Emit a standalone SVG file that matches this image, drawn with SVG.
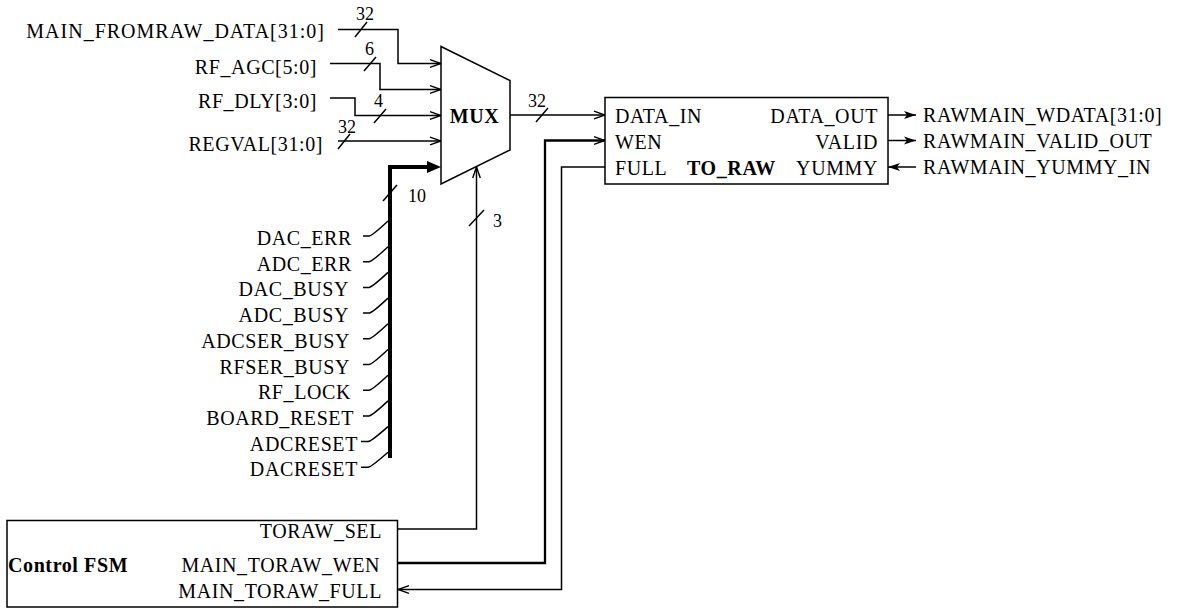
<svg xmlns="http://www.w3.org/2000/svg" width="1178" height="610" viewBox="0 0 1178 610">
<style>
text{font-family:"Liberation Serif","Times New Roman",serif;font-size:20px;letter-spacing:0.6px;fill:#000}
.b{font-weight:bold}
.n{font-size:18px;letter-spacing:0}
.e{text-anchor:end}
.w{fill:none;stroke:#000;stroke-width:1.5}
.wt{fill:none;stroke:#000;stroke-width:2.3}
.bus{fill:none;stroke:#000;stroke-width:4}
.sl{fill:none;stroke:#000;stroke-width:1.5}
.box{fill:#fff;stroke:#000;stroke-width:1.5}
</style>
<defs>
<marker id="a" markerUnits="userSpaceOnUse" markerWidth="14" markerHeight="10" refX="12" refY="5" orient="auto">
<path d="M1,1.2 L12,5 L1,8.8" fill="none" stroke="#000" stroke-width="1.4"/>
</marker>
<marker id="f" markerUnits="userSpaceOnUse" markerWidth="14" markerHeight="10" refX="12" refY="5" orient="auto">
<path d="M0,1 L12,5 L0,9 L3,5 Z" fill="#000"/>
</marker>
</defs>

<g id="connectors">
<path class="w" d="M338,29.5 H398 V63.5 H441" marker-end="url(#a)"/>
<path class="w" d="M330,63.5 H380 V89.5 H441" marker-end="url(#a)"/>
<path class="w" d="M330,98 H355 V115.5 H441" marker-end="url(#a)"/>
<path class="w" d="M338,141 H441" marker-end="url(#a)"/>
<path class="bus" d="M390,458 V167 H430"/>
<path d="M427,161 L441,167 L427,173 Z" fill="#000"/>
<path class="w" d="M510,115 H605" marker-end="url(#a)"/>
<path class="w" d="M398,529 H476.5 V167" marker-end="url(#a)"/>
<path class="wt" d="M398,563 H545 V140.5 H605" marker-end="url(#a)"/>
<path class="w" d="M605,167 H561.5 V589.5 H398" marker-end="url(#a)"/>
<path class="w" d="M888,115 H916" marker-end="url(#f)"/>
<path class="w" d="M888,140.5 H916" marker-end="url(#f)"/>
<path class="w" d="M916,167 H888" marker-end="url(#f)"/>
<g id="stubs">
<path class="w" d="M363,236 H369 Q372,236 388,221"/>
<path class="w" d="M363,261.7 H369 Q372,261.7 388,246.7"/>
<path class="w" d="M363,287.4 H369 Q372,287.4 388,272.4"/>
<path class="w" d="M363,313.1 H369 Q372,313.1 388,298.1"/>
<path class="w" d="M363,338.8 H369 Q372,338.8 388,323.8"/>
<path class="w" d="M363,364.5 H369 Q372,364.5 388,349.5"/>
<path class="w" d="M363,390.2 H369 Q372,390.2 388,375.2"/>
<path class="w" d="M363,415.9 H369 Q372,415.9 388,400.9"/>
<path class="w" d="M361,441.6 H368 Q371,441.6 388,426.6"/>
<path class="w" d="M361,467.3 H368 Q371,467.3 388,452.3"/>
</g>
<g id="slashes">
<path class="sl" d="M355,37 L367,22"/>
<path class="sl" d="M364,71 L376,57"/>
<path class="sl" d="M374,123 L386,109"/>
<path class="sl" d="M338,149 L350,134"/>
<path class="sl" d="M536,122 L548,108"/>
<path class="sl" d="M383,201 L397,185"/>
<path class="sl" d="M469,226 L484,210"/>
</g>
<text class="n" x="356" y="20">32</text>
<text class="n" x="365" y="55">6</text>
<text class="n" x="374" y="107">4</text>
<text class="n" x="338" y="133">32</text>
<text class="n" x="528" y="107">32</text>
<text class="n" x="408" y="202">10</text>
<text class="n" x="493" y="227">3</text>
</g>

<g id="inputs">
<text class="e" x="325" y="38" style="letter-spacing:1px">MAIN_FROMRAW_DATA[31:0]</text>
<text class="e" x="317" y="74">RF_AGC[5:0]</text>
<text class="e" x="317" y="108">RF_DLY[3:0]</text>
<text class="e" x="323" y="151">REGVAL[31:0]</text>
</g>

<g id="status">
<text class="e" x="352" y="245">DAC_ERR</text>
<text class="e" x="352" y="270.7">ADC_ERR</text>
<text class="e" x="349" y="296.4">DAC_BUSY</text>
<text class="e" x="349" y="322.1">ADC_BUSY</text>
<text class="e" x="350" y="347.8">ADCSER_BUSY</text>
<text class="e" x="350" y="373.5">RFSER_BUSY</text>
<text class="e" x="351" y="399.2">RF_LOCK</text>
<text class="e" x="354" y="424.9">BOARD_RESET</text>
<text class="e" x="358" y="450.6">ADCRESET</text>
<text class="e" x="358" y="476.3">DACRESET</text>
</g>

<g id="mux">
<polygon class="box" points="441,46.5 510,80.5 510,150 441,184"/>
<text class="b" x="474.5" y="123" text-anchor="middle">MUX</text>
</g>

<g id="to_raw">
<rect class="box" x="605" y="97.5" width="283" height="86.5"/>
<text x="615" y="123">DATA_IN</text>
<text x="615" y="149">WEN</text>
<text x="615" y="175">FULL</text>
<text class="b" x="687" y="175">TO_RAW</text>
<text class="e" x="878" y="123">DATA_OUT</text>
<text class="e" x="878" y="149">VALID</text>
<text class="e" x="878" y="175">YUMMY</text>
</g>

<g id="outputs">
<text x="923" y="122">RAWMAIN_WDATA[31:0]</text>
<text x="923" y="148">RAWMAIN_VALID_OUT</text>
<text x="923" y="174">RAWMAIN_YUMMY_IN</text>
</g>

<g id="control_fsm">
<rect class="box" x="7" y="520.5" width="390.5" height="86.5"/>
<text class="e" x="382" y="538">TORAW_SEL</text>
<text class="b" x="8" y="572">Control FSM</text>
<text class="e" x="380" y="572">MAIN_TORAW_WEN</text>
<text class="e" x="382" y="598">MAIN_TORAW_FULL</text>
</g>
</svg>
